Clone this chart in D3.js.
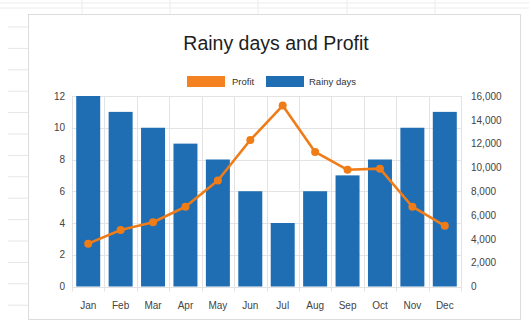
<!DOCTYPE html>
<html>
<head>
<meta charset="utf-8">
<script src="https://cdn.jsdelivr.net/npm/d3@7/dist/d3.min.js"></script>
<style>
  html, body { margin: 0; padding: 0; background: #fff; }
  svg { display: block; font-family: "Liberation Sans", Arial, sans-serif; }
</style>
</head>
<body>
<svg id="chart" width="529" height="325"></svg>
<script>
// Monthly data
const months = ["Jan", "Feb", "Mar", "Apr", "May", "Jun", "Jul", "Aug", "Sep", "Oct", "Nov", "Dec"];
const rainyDays = [12, 11, 10, 9, 8, 6, 4, 6, 7, 8, 10, 11];
const profit = [3600, 4750, 5400, 6700, 8900, 12300, 15200, 11300, 9800, 9900, 6700, 5100];
const leftTicks = [0, 2, 4, 6, 8, 10, 12];
const rightTicks = [0, 2000, 4000, 6000, 8000, 10000, 12000, 14000, 16000];

const svg = d3.select("#chart");
const W = 529, H = 325;

// Spreadsheet backdrop behind the chart object
const sheet = svg.append("g");
d3.range(27, 320, 21.4).forEach(y => {
  sheet.append("line").attr("x1", 8).attr("x2", 28).attr("y1", y).attr("y2", y)
    .attr("stroke", "#e6e6e6").attr("stroke-width", 1);
});
[3, 8].forEach(y => {
  sheet.append("line").attr("x1", 0).attr("x2", W).attr("y1", y).attr("y2", y)
    .attr("stroke", "#ececec").attr("stroke-width", 1);
});
[82, 170, 258, 347, 435].forEach(x => {
  sheet.append("line").attr("x1", x).attr("x2", x).attr("y1", 0).attr("y2", 14)
    .attr("stroke", "#ececec").attr("stroke-width", 1);
});

// Chart frame
svg.append("rect").attr("x", 28.5).attr("y", 14.5).attr("width", 492).attr("height", 305)
  .attr("fill", "#fff").attr("stroke", "#dcdcdc").attr("stroke-width", 1);

const plot = { left: 72, right: 461, top: 96, bottom: 286.5 };

const x = d3.scaleBand().domain(months).range([plot.left, plot.right])
  .paddingInner(0.26).paddingOuter(0.13);
const yL = d3.scaleLinear().domain([0, 12]).range([plot.bottom, plot.top]);
const yR = d3.scaleLinear().domain([0, 16000]).range([plot.bottom, plot.top]);

// Gridlines
const grid = svg.append("g");
grid.selectAll("line.h").data(leftTicks).join("line")
  .attr("x1", plot.left).attr("x2", plot.right)
  .attr("y1", d => Math.round(yL(d)) + 0.5).attr("y2", d => Math.round(yL(d)) + 0.5)
  .attr("stroke", "#e3e3e3");
const step = x.step();
const bounds = d3.range(months.length + 1).map(i => plot.left + i * step);
grid.selectAll("line.v").data(bounds).join("line")
  .attr("x1", d => Math.round(d) + 0.5).attr("x2", d => Math.round(d) + 0.5)
  .attr("y1", plot.top).attr("y2", plot.bottom + 5)
  .attr("stroke", "#e3e3e3");

// Bars
svg.append("g").selectAll("rect").data(months).join("rect")
  .attr("x", d => x(d))
  .attr("width", x.bandwidth())
  .attr("y", (d, i) => yL(rainyDays[i]))
  .attr("height", (d, i) => yL(0) - yL(rainyDays[i]))
  .attr("fill", "#1f6eb4");

// Profit line
const cx = d => x(d) + x.bandwidth() / 2;
const line = d3.line().x((d, i) => cx(months[i])).y(d => yR(d));
svg.append("path").datum(profit)
  .attr("d", line)
  .attr("fill", "none")
  .attr("stroke", "#f07c18")
  .attr("stroke-width", 2.6)
  .attr("stroke-linejoin", "round");
svg.append("g").selectAll("circle").data(profit).join("circle")
  .attr("cx", (d, i) => cx(months[i]))
  .attr("cy", d => yR(d))
  .attr("r", 4)
  .attr("fill", "#f07c18");

// Axes
const axisStyle = g => {
  g.select(".domain").remove();
  g.selectAll(".tick line").remove();
  g.selectAll("text").attr("fill", "#444").attr("font-size", 10)
    .attr("font-family", "'Liberation Sans', Arial, sans-serif");
};
svg.append("g").attr("transform", `translate(${plot.left - 7},0)`)
  .call(d3.axisLeft(yL).tickValues(leftTicks).tickSize(0).tickPadding(0))
  .call(axisStyle);
svg.append("g").attr("transform", `translate(${plot.right + 10},0)`)
  .call(d3.axisRight(yR).tickValues(rightTicks).tickSize(0).tickPadding(0)
    .tickFormat(d3.format(",")))
  .call(axisStyle);
svg.append("g").attr("transform", `translate(0,${plot.bottom + 12})`)
  .call(d3.axisBottom(x).tickSize(0).tickPadding(3))
  .call(axisStyle);

// Title
svg.append("text").attr("x", 276).attr("y", 50)
  .attr("text-anchor", "middle").attr("font-size", 19.5).attr("fill", "#1e1e1e")
  .text("Rainy days and Profit");

// Legend
const legend = svg.append("g").attr("font-size", 9.5).attr("fill", "#333");
legend.append("rect").attr("x", 187).attr("y", 76).attr("width", 38).attr("height", 11).attr("fill", "#f58220");
legend.append("text").attr("x", 232).attr("y", 85).text("Profit");
legend.append("rect").attr("x", 266).attr("y", 76).attr("width", 38).attr("height", 11).attr("fill", "#1f6eb4");
legend.append("text").attr("x", 309).attr("y", 85).text("Rainy days");
</script>
</body>
</html>
